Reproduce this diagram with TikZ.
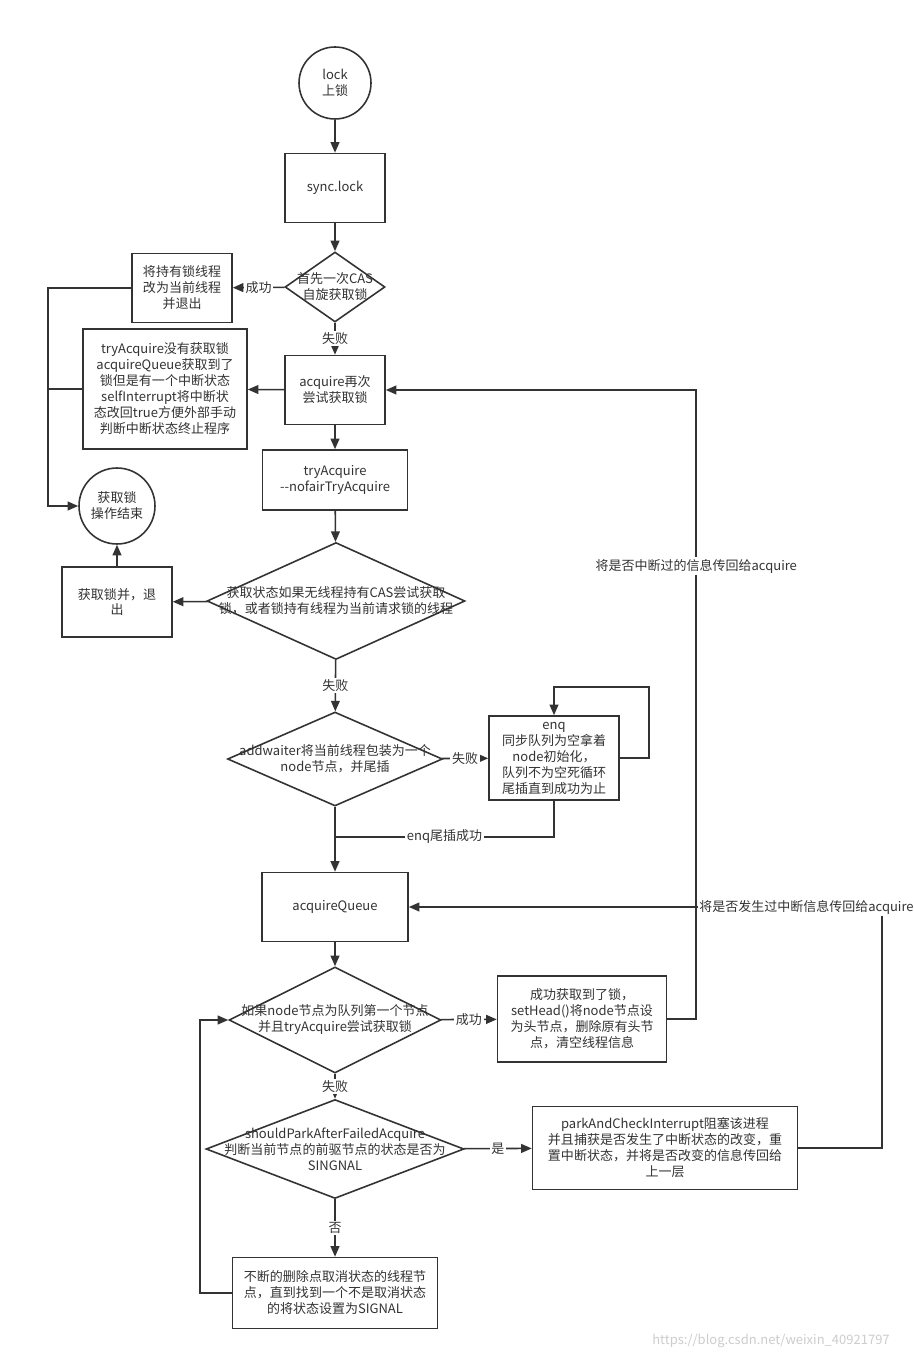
\documentclass[tikz,border=0pt]{standalone}
\usepackage{fontspec}
\setmainfont{Noto Sans CJK SC}
\usepackage{tikz}
\usetikzlibrary{arrows.meta,positioning,shapes.geometric}
\definecolor{flowgray}{RGB}{51,51,51}
\definecolor{markgray}{RGB}{205,205,205}
\newcommand{\flowfont}{\fontsize{7.4}{9.1}\selectfont}

\begin{document}
\begin{tikzpicture}[
    x=0.02cm, y=-0.02cm,
    proc/.style={rectangle, draw=flowgray, line width=0.9pt, fill=white, align=center, font=\flowfont, text=flowgray},
    decision/.style={diamond, draw=flowgray, line width=0.9pt, fill=white, inner sep=0pt},
    dtext/.style={align=center, font=\flowfont, text=flowgray},
    term/.style={circle, draw=flowgray, line width=0.9pt, fill=white, align=center, font=\flowfont, text=flowgray, minimum size=#1},
    flow/.style={-{Triangle[length=6pt,width=5pt]}, line width=0.9pt, draw=flowgray},
    link/.style={line width=0.9pt, draw=flowgray},
    tag/.style={fill=white, inner sep=1pt, font=\flowfont, text=flowgray}
]
\path[use as bounding box, fill=white] (0,0) rectangle (913,1361);

% Entry
\node[term=1.44cm] (lock) at (335,83) {lock\\上锁};
\node[proc, minimum width=2cm, minimum height=1.38cm] (sync) at (335,188) {sync.lock};

% First CAS
\node[decision, minimum width=2cm, minimum height=1.4cm] (cas) at (335,287) {};
\node[dtext] (castxt) at (cas) {首先一次CAS\\自旋获取锁};
\node[proc, minimum width=2cm, minimum height=1.38cm] (hold) at (182,288) {将持有锁线程\\改为当前线程\\并退出};

% acquire
\node[proc, minimum width=2cm, minimum height=1.38cm] (acq) at (335,390) {acquire再次\\尝试获取锁};
\node[proc, minimum width=3.28cm, minimum height=2.4cm] (tryfail) at (165,389) {tryAcquire没有获取锁\\acquireQueue获取到了\\锁但是有一个中断状态\\selfInterrupt将中断状\\态改回true方便外部手动\\判断中断状态终止程序};
\node[term=1.52cm] (done) at (117,506) {获取锁\\操作结束};
\node[proc, minimum width=2.9cm, minimum height=1.2cm] (nofair) at (335,480) {tryAcquire\\-{}-nofairTryAcquire};

% State check
\node[decision, minimum width=5.16cm, minimum height=2.34cm] (state) at (336,601) {};
\node[dtext] (statetxt) at (state) {获取状态如果无线程持有CAS尝试获取\\锁，或者锁持有线程为当前请求锁的线程};
\node[proc, minimum width=2.2cm, minimum height=1.4cm] (exit) at (117,602) {获取锁并，退\\出};

% addWaiter / enq
\node[decision, minimum width=4.3cm, minimum height=1.88cm] (addw) at (335,759) {};
\node[dtext] (addwtxt) at (addw) {addwaiter将当前线程包装为一个\\node节点，并尾插};
\node[proc, minimum width=2.6cm, minimum height=1.66cm] (enq) at (554,758) {enq\\同步队列为空拿着\\node初始化，\\队列不为空死循环\\尾插直到成功为止};
\coordinate (merge) at (335,837);

% acquireQueue
\node[proc, minimum width=2.92cm, minimum height=1.38cm] (aq) at (335,907) {acquireQueue};
\node[decision, minimum width=4.24cm, minimum height=2.12cm] (first) at (335,1020) {};
\node[dtext] (firsttxt) at (first) {如果node节点为队列第一个节点\\并且tryAcquire尝试获取锁};
\node[proc, minimum width=3.38cm, minimum height=1.72cm] (got) at (582,1019) {成功获取到了锁，\\setHead()将node节点设\\为头节点，删除原有头节\\点，清空线程信息};

% Park
\node[decision, minimum width=5.16cm, minimum height=1.98cm] (should) at (335,1149) {};
\node[dtext] (shouldtxt) at (should) {shouldParkAfterFailedAcquire\\判断当前节点的前驱节点的状态是否为\\SINGNAL};
\node[proc, minimum width=5.3cm, minimum height=1.66cm] (park) at (665,1148) {parkAndCheckInterrupt阻塞该进程\\并且捕获是否发生了中断状态的改变，重\\置中断状态，并将是否改变的信息传回给\\上一层};
\node[proc, minimum width=4.1cm, minimum height=1.42cm] (clean) at (335,1293) {不断的删除点取消状态的线程节\\点，直到找到一个不是取消状态\\的将状态设置为SIGNAL};

\node[font=\flowfont, text=markgray] (wm) at (771,1341) {https://blog.csdn.net/weixin\_40921797};

% Connectors
\draw[flow] (lock) -- (sync);
\draw[flow] (sync) -- (cas);
\draw[flow] (cas) -- node[tag] {成功} (hold);
\draw[flow] (cas) -- node[tag] {失败} (acq);
\coordinate (rail) at (48,506);
\draw[flow] (hold.west) -| (rail) -- (done.west);
\draw[flow] (acq) -- (tryfail);
\draw[link] (tryfail.west) -- (tryfail.west -| rail);
\draw[flow] (acq) -- (nofair);
\draw[flow] (nofair) -- (state);
\draw[flow] (state) -- (exit);
\draw[flow] (exit) -- (done);
\draw[flow] (state) -- node[tag] {失败} (addw);
\draw[flow] (addw) -- node[tag] {失败} (enq);
\draw[flow] (enq.east) -- ++(29,0) -- ++(0,-71) -| (enq.north);
\draw[link] (enq.south) |- node[tag, pos=0.75] {enq尾插成功} (merge);
\draw[flow] (addw) -- (aq);
\draw[flow] (aq) -- (first);
\draw[flow] (first) -- node[tag] {成功} (got);
\draw[flow] (first) -- node[tag] {失败} (should);
\draw[flow] (should) -- node[tag] {是} (park);
\draw[flow] (park.east) -- ++(84,0) |- node[tag, pos=0.58] {将是否发生过中断信息传回给acquire} (aq.east);
\draw[flow] (got.east) -- ++(29,0) |- node[tag, pos=0.36] {将是否中断过的信息传回给acquire} (acq.east);
\draw[flow] (should) -- node[tag] {否} (clean);
\draw[flow] (clean.west) -- ++(-32,0) |- (first.west);

\end{tikzpicture}
\end{document}
